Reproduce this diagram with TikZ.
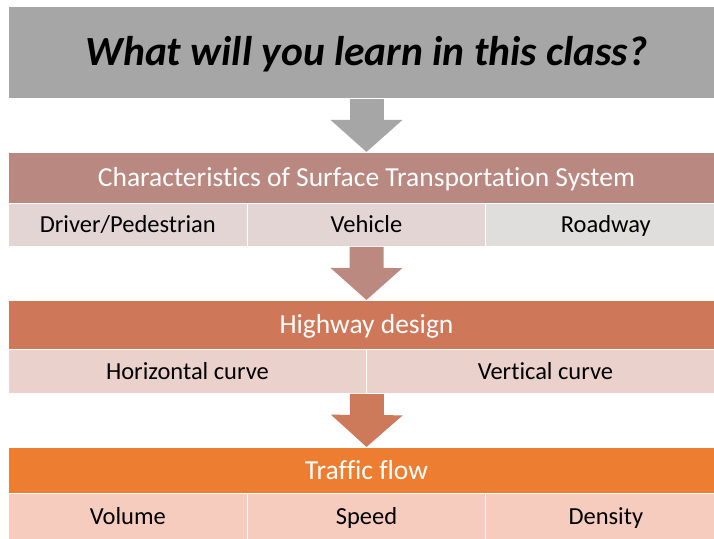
\documentclass[tikz,border=0pt]{standalone}
\usepackage{fontspec}
\setmainfont{Carlito}[Ligatures=CommonOff]
\usetikzlibrary{arrows.meta}

\definecolor{titlegray}{HTML}{A6A6A6}
\definecolor{rosehead}{RGB}{185,136,128}
\definecolor{rosearrow}{RGB}{188,137,128}
\definecolor{rosecell}{RGB}{226,213,212}
\definecolor{greycell}{RGB}{224,221,221}
\definecolor{rusthead}{RGB}{207,120,89}
\definecolor{rustarrow}{RGB}{205,122,90}
\definecolor{rustcell}{RGB}{235,209,204}
\definecolor{orangehead}{RGB}{237,125,49}
\definecolor{orangecell}{RGB}{245,204,189}

% text height = cap height, so capitals sit in the middle of each box
\tikzset{
  box/.style={fill=#1, draw=white, line width=1pt, inner sep=0pt, anchor=north west, text depth=0pt},
  headbox/.style={box=#1, minimum width=716pt, text=white, text height=17.7pt,
                  font=\fontsize{27.5}{32}\selectfont},
  cellbox/.style={box=#1, text=black, text height=15.8pt, font=\fontsize{24.5}{29}\selectfont},
  flowarrow/.style={draw=#1, line width=34pt, -{Triangle[width=70pt, length=32pt]}},
}

\begin{document}
\begin{tikzpicture}[x=1pt, y=1pt]
    \path[use as bounding box, fill=white] (0,0) rectangle (714,538);

    % question on top
    \node[box=titlegray, minimum width=716pt, minimum height=92pt, text height=26.7pt,
          font=\fontsize{41.5}{48}\selectfont\bfseries\itshape] (title) at (8,532)
        {What will you learn in this class?};

    % first block
    \node[headbox=rosehead, minimum height=51pt] (system) at (8,386)
        {Characteristics of Surface Transportation System};
    \node[cellbox=rosecell, minimum width=238.67pt, minimum height=43pt] (driver) at (8,335) {Driver/Pedestrian};
    \node[cellbox=rosecell, minimum width=238.67pt, minimum height=43pt] (vehicle) at (246.67,335) {Vehicle};
    \node[cellbox=greycell, minimum width=240pt, minimum height=43pt] (roadway) at (485.33,335) {Roadway};

    % second block
    \node[headbox=rusthead, minimum height=49pt] (design) at (8,238) {Highway design};
    \node[cellbox=rustcell, minimum width=358pt, minimum height=44pt] (hcurve) at (8,189) {Horizontal curve};
    \node[cellbox=rustcell, minimum width=358pt, minimum height=44pt] (vcurve) at (366,189) {Vertical curve};

    % third block
    \node[headbox=orangehead, minimum height=46pt] (flow) at (8,91) {Traffic flow};
    \node[cellbox=orangecell, minimum width=238.67pt, minimum height=46pt] (volume) at (8,45) {Volume};
    \node[cellbox=orangecell, minimum width=238.67pt, minimum height=46pt] (speed) at (246.67,45) {Speed};
    \node[cellbox=orangecell, minimum width=240pt, minimum height=46pt] (density) at (485.33,45) {Density};

    % block arrows
    \draw[flowarrow=titlegray] (title.south) -- (system.north);
    \draw[flowarrow=rosearrow] (vehicle.south) -- (design.north);
    \draw[flowarrow=rustarrow] (hcurve.south east) -- (flow.north);
\end{tikzpicture}
\end{document}
